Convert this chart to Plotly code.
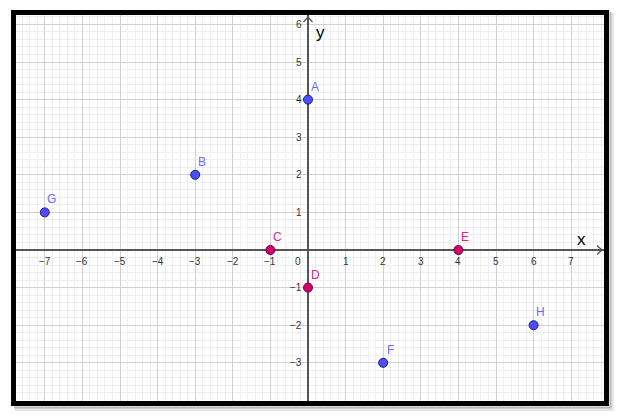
import plotly.graph_objects as go

# ---- data ----
blue_names = ["A", "B", "F", "G", "H"]
blue_x = [0, -3, 2, -7, 6]
blue_y = [4, 2, -3, 1, -2]
pink_names = ["C", "D", "E"]
pink_x = [-1, 0, 4]
pink_y = [0, -1, 0]
x_tick_vals = [-7, -6, -5, -4, -3, -2, -1, 1, 2, 3, 4, 5, 6, 7]
y_tick_vals = [-3, -2, -1, 1, 2, 3, 4, 5, 6]

W, H = 621, 415
L, R, T, B = 16, 604, 15, 401          # plot area in pixels
X0PX, Y0PX, UNIT = 308, 250, 37.6      # origin pixel and unit size

xr = [(L - X0PX) / UNIT, (R - X0PX) / UNIT]
yr = [(Y0PX - B) / UNIT, (Y0PX - T) / UNIT]

def px2x(p):
    return (p - X0PX) / UNIT

def px2y(p):
    return (Y0PX - p) / UNIT

def pfx(p):
    return (p - L) / (R - L)

def pfy(p):
    return (B - p) / (B - T)

def minus(v):
    return ("−" + str(-v)) if v < 0 else str(v)

BLUE_LABEL = "#6a6aff"
PINK_LABEL = "#e0208c"
LABEL_FONT = "Liberation Sans, Arial, sans-serif"

fig = go.Figure()

fig.add_trace(go.Scatter(
    x=blue_x, y=blue_y, mode="markers",
    marker=dict(size=9, color="#4d4dff", line=dict(color="#1a1a80", width=1)),
    cliponaxis=False, hoverinfo="skip", showlegend=False))

fig.add_trace(go.Scatter(
    x=pink_x, y=pink_y, mode="markers",
    marker=dict(size=9, color="#d5006d", line=dict(color="#6a0036", width=1)),
    cliponaxis=False, hoverinfo="skip", showlegend=False))

annotations = []
for n, xv, yv in zip(blue_names, blue_x, blue_y):
    annotations.append(dict(x=xv, y=yv, xref="x", yref="y", text=n, showarrow=False,
                            xshift=7, yshift=13,
                            font=dict(family=LABEL_FONT, size=12, color=BLUE_LABEL)))
for n, xv, yv in zip(pink_names, pink_x, pink_y):
    annotations.append(dict(x=xv, y=yv, xref="x", yref="y", text=n, showarrow=False,
                            xshift=7, yshift=13,
                            font=dict(family=LABEL_FONT, size=12, color=PINK_LABEL)))

tick_font = dict(family="Liberation Sans, Arial, sans-serif", size=10, color="#333333")
for v in x_tick_vals:
    annotations.append(dict(x=v, y=0, xref="x", yref="y", text=minus(v),
                            showarrow=False, yshift=-11, font=tick_font))
for v in y_tick_vals:
    annotations.append(dict(x=0, y=v, xref="x", yref="y", text=minus(v),
                            showarrow=False, xanchor="right", xshift=-4, font=tick_font))
annotations.append(dict(x=0, y=0, xref="x", yref="y", text="0", showarrow=False,
                        xanchor="right", xshift=-5, yshift=-11, font=tick_font))
axis_font = dict(family="Liberation Sans, Arial, sans-serif", size=17, color="#000000")
annotations.append(dict(x=px2x(581), y=px2y(239), xref="x", yref="y", text="x",
                        showarrow=False, font=axis_font))
annotations.append(dict(x=px2x(320), y=px2y(32), xref="x", yref="y", text="y",
                        showarrow=False, font=axis_font))

shapes = [
    # arrow heads
    dict(type="path", xref="x", yref="y", layer="above",
         path=f"M {px2x(597)} {px2y(245.5)} L {px2x(602)} {px2y(250)} L {px2x(597)} {px2y(254.5)}",
         line=dict(color="#555555", width=1.3)),
    dict(type="path", xref="x", yref="y", layer="above",
         path=f"M {px2x(303.5)} {px2y(22)} L {px2x(308)} {px2y(17)} L {px2x(312.5)} {px2y(22)}",
         line=dict(color="#555555", width=1.3)),
    # shadow (right and bottom, outside the frame)
    dict(type="path", xref="paper", yref="paper", layer="above",
         path=f"M {pfx(15)} {pfy(409.5)} L {pfx(612.5)} {pfy(409.5)} L {pfx(612.5)} {pfy(13)}",
         line=dict(color="#e6e6e6", width=3)),
    dict(type="path", xref="paper", yref="paper", layer="above",
         path=f"M {pfx(14)} {pfy(407.5)} L {pfx(610.5)} {pfy(407.5)} L {pfx(610.5)} {pfy(12)}",
         line=dict(color="#b8b8b8", width=2)),
    # frame
    dict(type="rect", xref="paper", yref="paper", layer="above",
         x0=pfx(13.5), x1=pfx(606.5), y0=pfy(12.5), y1=pfy(403.5),
         line=dict(color="#000000", width=5), fillcolor="rgba(0,0,0,0)"),
]

axis_common = dict(
    showgrid=True, gridcolor="#d0d0d0", gridwidth=1,
    minor=dict(dtick=0.2, showgrid=True, gridcolor="#efefef", gridwidth=1),
    zeroline=True, zerolinecolor="#555555", zerolinewidth=1.5,
    showticklabels=False, ticks="", showline=False, dtick=1, tick0=0,
)

fig.update_layout(
    width=W, height=H,
    margin=dict(l=L, r=W - R, t=T, b=H - B),
    paper_bgcolor="white", plot_bgcolor="white",
    xaxis=dict(range=xr, **axis_common),
    yaxis=dict(range=yr, **axis_common),
    annotations=annotations, shapes=shapes,
)

fig.write_html("out.html", config={"displayModeBar": False},
               post_script="document.body.style.margin='0';document.body.style.overflow='hidden';")
